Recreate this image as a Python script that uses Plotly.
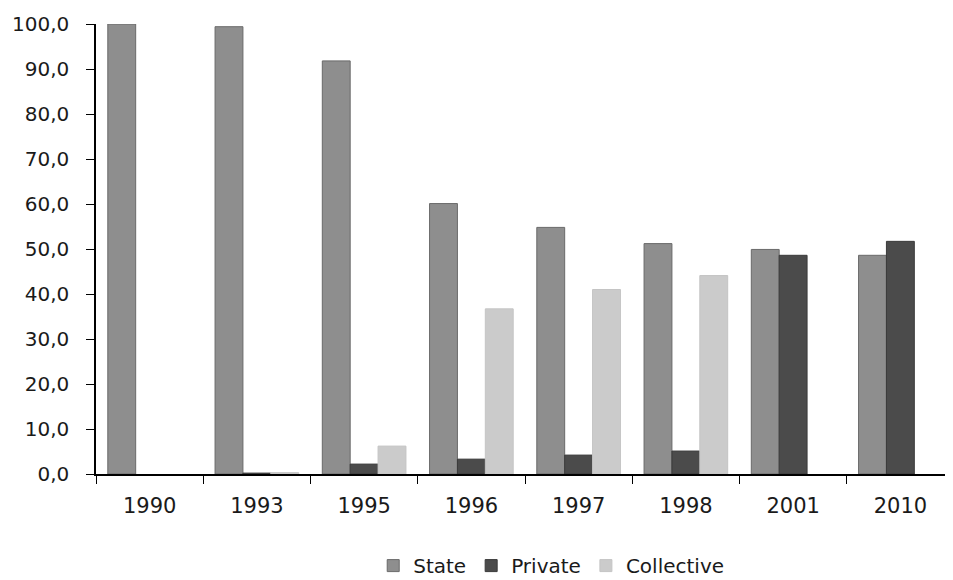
import plotly.graph_objects as go

years = ["1990", "1993", "1995", "1996", "1997", "1998", "2001", "2010"]
state = [100.0, 99.4, 91.8, 60.1, 54.8, 51.2, 49.9, 48.6]
private = [None, 0.2, 2.2, 3.3, 4.2, 5.1, 48.6, 51.7]
collective = [None, 0.3, 6.2, 36.7, 41.0, 44.1, None, None]

fig = go.Figure()
fig.add_bar(x=years, y=state, name="State", marker=dict(color="#8e8e8e", line=dict(color="#6a6a6a", width=1)))
fig.add_bar(x=years, y=private, name="Private", marker=dict(color="#4b4b4b", line=dict(color="#3a3a3a", width=1)))
fig.add_bar(x=years, y=collective, name="Collective", marker=dict(color="#cbcbcb", line=dict(color="#c4c4c4", width=1)))

fig.update_layout(
    width=953, height=580,
    margin=dict(l=88, r=7, t=16, b=114, autoexpand=False),
    paper_bgcolor="white", plot_bgcolor="white",
    barmode="group", bargap=0.22, bargroupgap=0,
    separators=", ",
    font=dict(family="DejaVu Sans, sans-serif", size=21, color="#1a1a1a"),
    showlegend=True,
    legend=dict(orientation="h", x=0.57, xref="container", xanchor="center",
                y=0.005, yref="container", yanchor="bottom",
                font=dict(size=20), itemwidth=30, tracegroupgap=0),
)
fig.update_xaxes(showline=True, linecolor="black", linewidth=1.5, ticks="outside",
                 tickson="boundaries", ticklen=8, tickcolor="black", showgrid=False,
                 tickfont=dict(size=21), ticklabelstandoff=12, automargin=False)
fig.update_yaxes(range=[0, 100], dtick=10, tickformat=".1f", showline=True, linecolor="black",
                 linewidth=1.5, ticks="outside", ticklen=8, tickcolor="black", showgrid=False,
                 zeroline=False, tickfont=dict(size=20), ticklabelstandoff=13, automargin=False)

fig.write_html("out.html")
